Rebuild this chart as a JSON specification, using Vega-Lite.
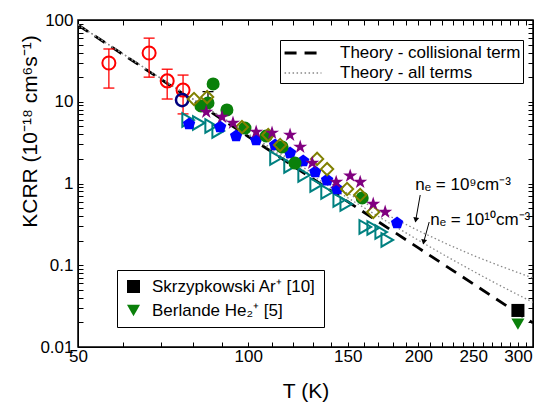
{
  "$schema": "https://vega.github.io/schema/vega-lite/v6.json",
  "width": 455,
  "height": 327,
  "autosize": {"type": "none"},
  "padding": {"left": 78, "top": 20, "right": 4, "bottom": 58},
  "background": "white",
  "config": {
    "view": {"stroke": "black", "strokeWidth": 1.5},
    "font": "Liberation Sans",
    "axis": {
      "labelFont": "Liberation Sans", "labelFontSize": 17, "labelColor": "black",
      "titleFont": "Liberation Sans", "titleFontSize": 21, "titleFontWeight": "normal", "titleColor": "black",
      "grid": false, "labelOverlap": false, "labelFlush": false
    },
    "legend": {"labelFont": "Liberation Sans", "labelFontSize": 17, "labelColor": "black", "labelLimit": 0}
  },
  "datasets": {
    "theory": [
      {"curve": "Theory - collisional term", "ne": "c", "T": 50, "K": 86.9},
      {"curve": "Theory - collisional term", "ne": "c", "T": 75, "K": 13.85},
      {"curve": "Theory - collisional term", "ne": "c", "T": 100, "K": 3.76},
      {"curve": "Theory - collisional term", "ne": "c", "T": 150, "K": 0.599},
      {"curve": "Theory - collisional term", "ne": "c", "T": 200, "K": 0.163},
      {"curve": "Theory - collisional term", "ne": "c", "T": 250, "K": 0.0593},
      {"curve": "Theory - collisional term", "ne": "c", "T": 300, "K": 0.0259},
      {"curve": "Theory - collisional term", "ne": "c", "T": 319, "K": 0.0197},
      {"curve": "Theory - all terms", "ne": "1e9", "T": 50, "K": 87.7},
      {"curve": "Theory - all terms", "ne": "1e9", "T": 75, "K": 14.3},
      {"curve": "Theory - all terms", "ne": "1e9", "T": 100, "K": 4.05},
      {"curve": "Theory - all terms", "ne": "1e9", "T": 125, "K": 1.574},
      {"curve": "Theory - all terms", "ne": "1e9", "T": 150, "K": 0.756},
      {"curve": "Theory - all terms", "ne": "1e9", "T": 175, "K": 0.4225},
      {"curve": "Theory - all terms", "ne": "1e9", "T": 200, "K": 0.265},
      {"curve": "Theory - all terms", "ne": "1e9", "T": 225, "K": 0.181},
      {"curve": "Theory - all terms", "ne": "1e9", "T": 250, "K": 0.132},
      {"curve": "Theory - all terms", "ne": "1e9", "T": 275, "K": 0.1017},
      {"curve": "Theory - all terms", "ne": "1e9", "T": 300, "K": 0.0815},
      {"curve": "Theory - all terms", "ne": "1e9", "T": 319, "K": 0.0697},
      {"curve": "Theory - all terms", "ne": "1e10", "T": 50, "K": 87.5},
      {"curve": "Theory - all terms", "ne": "1e10", "T": 75, "K": 14.13},
      {"curve": "Theory - all terms", "ne": "1e10", "T": 100, "K": 3.92},
      {"curve": "Theory - all terms", "ne": "1e10", "T": 125, "K": 1.469},
      {"curve": "Theory - all terms", "ne": "1e10", "T": 150, "K": 0.669},
      {"curve": "Theory - all terms", "ne": "1e10", "T": 175, "K": 0.3496},
      {"curve": "Theory - all terms", "ne": "1e10", "T": 200, "K": 0.2025},
      {"curve": "Theory - all terms", "ne": "1e10", "T": 225, "K": 0.1268},
      {"curve": "Theory - all terms", "ne": "1e10", "T": 250, "K": 0.0846},
      {"curve": "Theory - all terms", "ne": "1e10", "T": 275, "K": 0.0594},
      {"curve": "Theory - all terms", "ne": "1e10", "T": 300, "K": 0.0436},
      {"curve": "Theory - all terms", "ne": "1e10", "T": 319, "K": 0.0352}
    ],
    "pts": [
      {"s": "red", "T": 56.7, "K": 29.8},
      {"s": "red", "T": 66.8, "K": 39.5},
      {"s": "red", "T": 71.9, "K": 18},
      {"s": "red", "T": 76.7, "K": 13.9},
      {"s": "navy", "T": 76.4, "K": 10.5},
      {"s": "green", "T": 82.5, "K": 8.87},
      {"s": "green", "T": 84.9, "K": 9.66},
      {"s": "green", "T": 86.7, "K": 16.5},
      {"s": "green", "T": 91.7, "K": 7.93},
      {"s": "green", "T": 98.7, "K": 4.77},
      {"s": "green", "T": 107.6, "K": 3.81},
      {"s": "green", "T": 114.8, "K": 2.8},
      {"s": "green", "T": 121.0, "K": 1.78},
      {"s": "green", "T": 159.1, "K": 0.665},
      {"s": "olive", "T": 80.2, "K": 10.8},
      {"s": "olive", "T": 84.6, "K": 11.4},
      {"s": "olive", "T": 97.5, "K": 4.91},
      {"s": "olive", "T": 108.5, "K": 3.92},
      {"s": "olive", "T": 113.9, "K": 2.96},
      {"s": "olive", "T": 132.4, "K": 2.0},
      {"s": "olive", "T": 137.9, "K": 1.5},
      {"s": "olive", "T": 149.6, "K": 0.857},
      {"s": "olive", "T": 157.8, "K": 0.723},
      {"s": "olive", "T": 166.4, "K": 0.448},
      {"s": "purple", "T": 84.3, "K": 7.49},
      {"s": "purple", "T": 89.9, "K": 6.51},
      {"s": "purple", "T": 94.0, "K": 5.5},
      {"s": "purple", "T": 103.3, "K": 4.27},
      {"s": "purple", "T": 110.2, "K": 4.15},
      {"s": "purple", "T": 118.6, "K": 3.92},
      {"s": "purple", "T": 123.6, "K": 2.8},
      {"s": "purple", "T": 129.8, "K": 1.78},
      {"s": "purple", "T": 143.1, "K": 1.04},
      {"s": "purple", "T": 151.5, "K": 1.24},
      {"s": "purple", "T": 157.8, "K": 1.04},
      {"s": "purple", "T": 166.4, "K": 0.561},
      {"s": "purple", "T": 174.7, "K": 0.448},
      {"s": "blue", "T": 78.6, "K": 5.35},
      {"s": "blue", "T": 89.2, "K": 4.91},
      {"s": "blue", "T": 95.2, "K": 3.81},
      {"s": "blue", "T": 103.3, "K": 3.4},
      {"s": "blue", "T": 111.6, "K": 2.96},
      {"s": "blue", "T": 118.6, "K": 2.36},
      {"s": "blue", "T": 125.1, "K": 1.88},
      {"s": "blue", "T": 131.4, "K": 1.38},
      {"s": "blue", "T": 137.9, "K": 1.1},
      {"s": "blue", "T": 143.7, "K": 0.857},
      {"s": "blue", "T": 183.4, "K": 0.329},
      {"s": "teal", "T": 78.3, "K": 5.98},
      {"s": "teal", "T": 81.8, "K": 5.5},
      {"s": "teal", "T": 86.0, "K": 5.05},
      {"s": "teal", "T": 88.5, "K": 4.39},
      {"s": "teal", "T": 112.0, "K": 2.05},
      {"s": "teal", "T": 118.6, "K": 1.64},
      {"s": "teal", "T": 125.6, "K": 1.27},
      {"s": "teal", "T": 131.9, "K": 0.959},
      {"s": "teal", "T": 137.9, "K": 0.787},
      {"s": "teal", "T": 144.9, "K": 0.628},
      {"s": "teal", "T": 149.1, "K": 0.561},
      {"s": "teal", "T": 161.1, "K": 0.294},
      {"s": "teal", "T": 166.4, "K": 0.286},
      {"s": "teal", "T": 171.9, "K": 0.255},
      {"s": "teal", "T": 176.2, "K": 0.204}
    ],
    "err": [
      {"s": "red", "T": 56.7, "lo": 14.7, "hi": 44.2},
      {"s": "red", "T": 66.8, "lo": 20, "hi": 60},
      {"s": "red", "T": 71.9, "lo": 10.8, "hi": 25},
      {"s": "red", "T": 76.7, "lo": 7.1, "hi": 21.2},
      {"s": "black", "T": 84.9, "lo": 9.66, "hi": 13.3}
    ],
    "refs": [
      {"ref": "Skrzypkowski Ar⁺ [10]", "T": 300, "K": 0.028},
      {"ref": "Berlande He₂⁺ [5]", "T": 300, "K": 0.019}
    ],
    "notes": [
      {"label": "nₑ = 10⁹cm⁻³", "T": 197.5, "K": 0.833},
      {"label": "nₑ = 10¹⁰cm⁻³", "T": 209.9, "K": 0.311}
    ],
    "arrows": [
      {"T": 201.5, "K": 0.723, "T2": 197.9, "K2": 0.358},
      {"T": 209.0, "K": 0.338, "T2": 204.4, "K2": 0.1925}
    ]
  },
  "encoding": {
    "x": {"field": "T", "type": "quantitative", "scale": {"type": "log", "domain": [50, 319], "nice": false}, "axis": null},
    "y": {"field": "K", "type": "quantitative", "scale": {"type": "log", "domain": [0.01, 100], "nice": false}, "axis": null}
  },
  "resolve": {"axis": {"x": "independent", "y": "independent"}},
  "layer": [
    {
      "data": {"name": "theory"},
      "mark": {"type": "line", "clip": true},
      "encoding": {
        "x": {"field": "T", "type": "quantitative", "scale": {"type": "log", "domain": [50, 319], "nice": false},
          "axis": {"orient": "bottom", "values": [50,60,70,80,90,100,110,120,130,140,150,160,170,180,190,200,210,220,230,240,250,260,270,280,290,300,310],
            "labelExpr": "datum.value % 50 == 0 ? '' + datum.value : ''",
            "tickSize": -5, "tickColor": "black", "tickWidth": 1, "domainColor": "black",
            "labelPadding": 6, "title": "T (K)", "titleY": 50, "titleBaseline": "alphabetic"}},
        "y": {"field": "K", "type": "quantitative", "scale": {"type": "log", "domain": [0.01, 100], "nice": false},
          "axis": {"orient": "left", "values": [0.01,0.02,0.03,0.04,0.05,0.06,0.07,0.08,0.09,0.1,0.2,0.3,0.4,0.5,0.6,0.7,0.8,0.9,1,2,3,4,5,6,7,8,9,10,20,30,40,50,60,70,80,90,100],
            "labelExpr": "indexof([0.01,0.1,1,10,100], datum.value) >= 0 ? '' + datum.value : ''",
            "tickSize": -5, "tickColor": "black", "tickWidth": 1, "domainColor": "black",
            "labelPadding": 10, "title": "KCRR (10⁻¹⁸ cm⁶s⁻¹)", "titleX": -38, "titleY": 111, "titleAlign": "center", "titleBaseline": "bottom"}},
        "stroke": {"field": "curve", "type": "nominal", "scale": {"domain": ["Theory - collisional term", "Theory - all terms"], "range": ["black", "#888888"]},
          "legend": {"title": null, "orient": "none", "legendX": 202, "legendY": 20, "strokeColor": "black", "fillColor": "white", "padding": 2, "symbolType": "M-2,0L2,0", "symbolSize": 340, "symbolOffset": 10, "labelOffset": 26, "rowPadding": 2}},
        "strokeDash": {"field": "curve", "type": "nominal", "scale": {"domain": ["Theory - collisional term", "Theory - all terms"], "range": [[12, 8], [1.5, 2.5]]},
          "legend": {"title": null, "orient": "none", "legendX": 202, "legendY": 20, "strokeColor": "black", "fillColor": "white", "padding": 2, "symbolType": "M-2,0L2,0", "symbolSize": 340, "symbolOffset": 10, "labelOffset": 26, "rowPadding": 2}},
        "strokeWidth": {"field": "curve", "type": "nominal", "scale": {"domain": ["Theory - collisional term", "Theory - all terms"], "range": [2.8, 1.3]},
          "legend": {"title": null, "orient": "none", "legendX": 202, "legendY": 20, "strokeColor": "black", "fillColor": "white", "padding": 2, "symbolType": "M-2,0L2,0", "symbolSize": 340, "symbolOffset": 10, "labelOffset": 26, "rowPadding": 2}},
        "detail": {"field": "ne"}
      }
    },
    {
      "data": {"name": "err"},
      "transform": [{"filter": "datum.s == 'red'"}],
      "mark": {"type": "rule", "color": "#ff0000", "strokeWidth": 1.3},
      "encoding": {"y": {"field": "lo", "type": "quantitative", "axis": null}, "y2": {"field": "hi"}}
    },
    {
      "data": {"name": "err"},
      "transform": [{"filter": "datum.s == 'red'"}, {"fold": ["lo", "hi"], "as": ["end", "v"]}],
      "mark": {"type": "tick", "orient": "horizontal", "color": "#ff0000", "size": 11, "thickness": 1.3, "opacity": 1},
      "encoding": {"y": {"field": "v", "type": "quantitative", "axis": null}}
    },
    {
      "data": {"name": "err"},
      "transform": [{"filter": "datum.s == 'black'"}],
      "mark": {"type": "rule", "color": "black", "strokeWidth": 1.3},
      "encoding": {"y": {"field": "lo", "type": "quantitative", "axis": null}, "y2": {"field": "hi"}}
    },
    {
      "data": {"name": "err"},
      "transform": [{"filter": "datum.s == 'black'"}],
      "mark": {"type": "tick", "orient": "horizontal", "color": "black", "size": 11, "thickness": 1.3, "opacity": 1},
      "encoding": {"y": {"field": "hi", "type": "quantitative", "axis": null}}
    },
    {
      "data": {"name": "pts"},
      "transform": [{"filter": "datum.s == 'red'"}],
      "mark": {"type": "point", "shape": "circle", "filled": false, "color": "#ff0000", "strokeWidth": 2, "size": 170, "opacity": 1}
    },
    {
      "data": {"name": "pts"},
      "transform": [{"filter": "datum.s == 'navy'"}],
      "mark": {"type": "point", "shape": "circle", "filled": false, "color": "#00007f", "strokeWidth": 2.5, "size": 150, "opacity": 1}
    },
    {
      "data": {"name": "pts"},
      "transform": [{"filter": "datum.s == 'teal'"}],
      "mark": {"type": "point", "shape": "triangle-right", "filled": false, "color": "#008080", "strokeWidth": 2, "size": 180, "opacity": 1}
    },
    {
      "data": {"name": "pts"},
      "transform": [{"filter": "datum.s == 'blue'"}],
      "mark": {"type": "point", "shape": "M0,-1L0.951,-0.309L0.588,0.809L-0.588,0.809L-0.951,-0.309Z", "filled": true, "color": "#0000ff", "size": 170, "opacity": 1}
    },
    {
      "data": {"name": "pts"},
      "transform": [{"filter": "datum.s == 'green'"}],
      "mark": {"type": "point", "shape": "circle", "filled": true, "color": "#0a800a", "size": 170, "opacity": 1}
    },
    {
      "data": {"name": "pts"},
      "transform": [{"filter": "datum.s == 'olive'"}],
      "mark": {"type": "point", "shape": "diamond", "filled": false, "color": "#808000", "strokeWidth": 2, "size": 150, "opacity": 1}
    },
    {
      "data": {"name": "pts"},
      "transform": [{"filter": "datum.s == 'purple'"}],
      "mark": {"type": "point", "shape": "M0,-1L0.2245,-0.309L0.951,-0.309L0.3633,0.118L0.588,0.809L0,0.382L-0.588,0.809L-0.3633,0.118L-0.951,-0.309L-0.2245,-0.309Z", "filled": true, "color": "#800080", "size": 220, "opacity": 1}
    },
    {
      "data": {"name": "refs"},
      "mark": {"type": "point", "filled": true, "size": 170, "opacity": 1},
      "encoding": {
        "x": {"field": "T", "type": "quantitative", "scale": {"type": "log", "domain": [50, 319], "nice": false},
          "axis": {"orient": "top", "values": [50,60,70,80,90,100,110,120,130,140,150,160,170,180,190,200,210,220,230,240,250,260,270,280,290,300,310],
            "labels": false, "title": null, "tickSize": -5, "tickColor": "black", "tickWidth": 1, "domainColor": "black"}},
        "y": {"field": "K", "type": "quantitative", "scale": {"type": "log", "domain": [0.01, 100], "nice": false},
          "axis": {"orient": "right", "values": [0.01,0.02,0.03,0.04,0.05,0.06,0.07,0.08,0.09,0.1,0.2,0.3,0.4,0.5,0.6,0.7,0.8,0.9,1,2,3,4,5,6,7,8,9,10,20,30,40,50,60,70,80,90,100],
            "labels": false, "title": null, "tickSize": -5, "tickColor": "black", "tickWidth": 1, "domainColor": "black"}},
        "color": {"field": "ref", "type": "nominal", "scale": {"domain": ["Skrzypkowski Ar⁺ [10]", "Berlande He₂⁺ [5]"], "range": ["black", "#0a800a"]},
          "legend": {"title": null, "orient": "none", "legendX": 39, "legendY": 250, "strokeColor": "black", "fillColor": "white", "padding": 8, "labelOffset": 10, "rowPadding": 6, "symbolSize": 170}},
        "shape": {"field": "ref", "type": "nominal", "scale": {"domain": ["Skrzypkowski Ar⁺ [10]", "Berlande He₂⁺ [5]"], "range": ["square", "triangle-down"]},
          "legend": {"title": null, "orient": "none", "legendX": 39, "legendY": 250, "strokeColor": "black", "fillColor": "white", "padding": 8, "labelOffset": 10, "rowPadding": 6, "symbolSize": 170}}
      }
    },
    {
      "data": {"name": "arrows"},
      "mark": {"type": "rule", "color": "black", "strokeWidth": 1},
      "encoding": {"x2": {"field": "T2"}, "y2": {"field": "K2"}}
    },
    {
      "data": {"name": "arrows"},
      "mark": {"type": "point", "shape": "triangle-down", "filled": true, "color": "black", "size": 35, "angle": 10, "opacity": 1},
      "encoding": {
        "x": {"field": "T2", "type": "quantitative", "axis": null},
        "y": {"field": "K2", "type": "quantitative", "axis": null}
      }
    },
    {
      "data": {"name": "notes"},
      "mark": {"type": "text", "align": "left", "baseline": "alphabetic", "fontSize": 17, "font": "Liberation Sans", "color": "black"},
      "encoding": {"text": {"field": "label"}}
    }
  ]
}
